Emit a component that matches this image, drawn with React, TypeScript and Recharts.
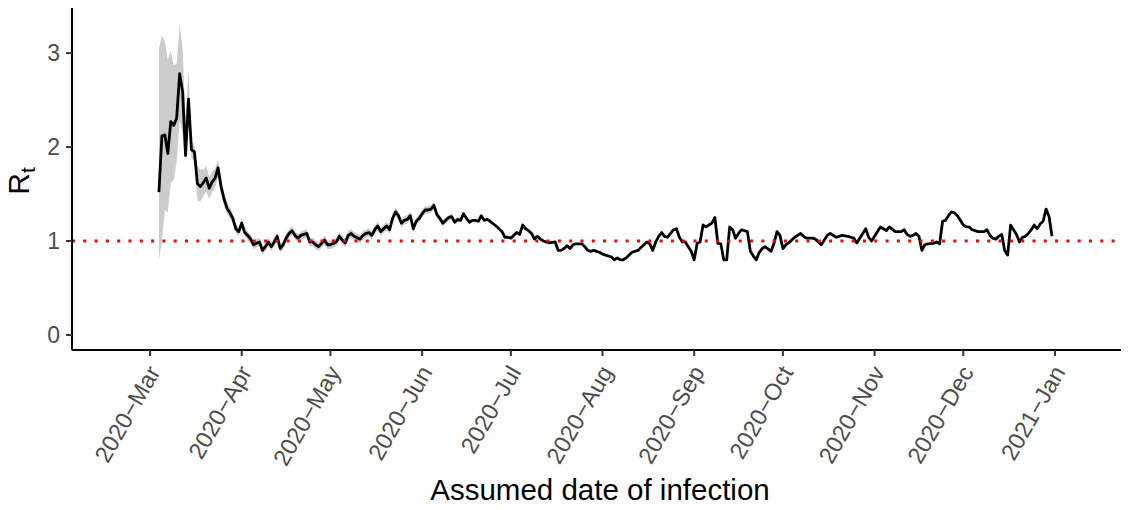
import React from "react";
import { ComposedChart, Line, Area, XAxis, YAxis, ReferenceLine } from "recharts";

// days are counted from 2020-03-01
const START = Date.UTC(2020, 2, 1);

const tickDates = [
  "2020-03-01", "2020-04-01", "2020-05-01", "2020-06-01", "2020-07-01", "2020-08-01",
  "2020-09-01", "2020-10-01", "2020-11-01", "2020-12-01", "2021-01-01",
];
const tickLabels = [
  "2020−Mar", "2020−Apr", "2020−May", "2020−Jun", "2020−Jul", "2020−Aug",
  "2020−Sep", "2020−Oct", "2020−Nov", "2020−Dec", "2021−Jan",
];
const yTicks = [0, 1, 2, 3];
const threshold = 1;

// [day, Rt]
const rtSeries: [number, number][] = [
  [3, 1.52], [4, 2.12], [5, 2.13], [6, 1.93], [7, 2.27], [8, 2.23], [9, 2.31], [10, 2.78], [11, 2.59], [12, 1.91],
  [13, 2.51], [14, 1.97], [15, 1.95], [16, 1.61], [17, 1.58], [18, 1.62], [19, 1.67], [20, 1.56], [21, 1.63], [22, 1.67],
  [23, 1.78], [24, 1.58], [25, 1.45], [26, 1.35], [27, 1.3], [28, 1.24], [29, 1.13], [30, 1.1], [31, 1.19], [32, 1.09],
  [33, 1.06], [34, 1.02], [35, 0.96], [36, 0.975], [37, 0.99], [38, 0.9], [39, 0.94], [40, 0.99], [41, 0.94], [42, 0.99],
  [43, 1.05], [44, 0.92], [45, 0.96], [46, 1.03], [47, 1.08], [48, 1.11], [49, 1.06], [50, 1.03], [51, 1.06], [52, 1.07],
  [53, 1.08], [54, 0.99], [55, 0.99], [56, 0.96], [57, 0.94], [58, 0.975], [59, 1.01], [60, 0.96], [61, 0.96], [63, 0.99],
  [64, 1.05], [65, 1.01], [66, 0.98], [67, 1.06], [68, 1.08], [69, 1.05], [71, 1.02], [72, 1.06], [73, 1.08], [74, 1.09],
  [75, 1.06], [76, 1.12], [77, 1.16], [78, 1.1], [79, 1.13], [80, 1.16], [81, 1.12], [82, 1.24], [83, 1.31], [84, 1.27],
  [85, 1.19], [86, 1.22], [87, 1.23], [88, 1.27], [89, 1.13], [90, 1.21], [91, 1.24], [92, 1.29], [93, 1.33], [94, 1.33],
  [95, 1.34], [96, 1.38], [97, 1.28], [98, 1.24], [99, 1.19], [100, 1.22], [101, 1.25], [102, 1.26], [103, 1.2], [104, 1.23],
  [105, 1.22], [106, 1.29], [107, 1.24], [108, 1.2], [109, 1.22], [110, 1.22], [111, 1.21], [112, 1.27], [113, 1.22], [114, 1.23],
  [115, 1.21], [117, 1.16], [118, 1.13], [119, 1.1], [120, 1.04], [121, 1.04], [122, 1.03], [123, 1.06], [124, 1.09], [125, 1.07],
  [126, 1.17], [127, 1.13], [128, 1.11], [129, 1.08], [130, 1.02], [131, 1.05], [132, 1.02], [133, 1.0], [134, 0.99], [135, 0.98],
  [137, 0.99], [138, 0.9], [139, 0.9], [140, 0.92], [141, 0.95], [142, 0.92], [143, 0.96], [144, 0.97], [146, 0.97], [147, 0.94],
  [148, 0.9], [149, 0.89], [150, 0.9], [151, 0.89], [152, 0.88], [153, 0.86], [154, 0.85], [156, 0.83], [157, 0.8], [158, 0.82],
  [159, 0.8], [160, 0.8], [161, 0.82], [162, 0.85], [163, 0.88], [165, 0.9], [166, 0.93], [167, 0.96], [168, 0.99], [169, 0.97],
  [170, 0.9], [171, 0.99], [172, 1.05], [173, 1.09], [174, 1.05], [175, 1.04], [177, 1.12], [178, 1.13], [179, 1.04], [180, 0.99],
  [181, 0.99], [182, 0.94], [183, 0.89], [184, 0.8], [185, 0.975], [186, 0.99], [187, 1.17], [188, 1.15], [189, 1.17], [190, 1.19],
  [191, 1.25], [192, 0.975], [193, 0.97], [194, 0.8], [195, 0.8], [196, 1.15], [197, 1.12], [198, 1.03], [199, 1.08], [200, 1.12],
  [202, 1.1], [203, 0.89], [204, 0.84], [205, 0.8], [206, 0.88], [207, 0.92], [208, 0.94], [210, 0.89], [211, 0.975], [212, 1.1],
  [213, 1.06], [214, 0.92], [215, 0.96], [216, 0.98], [217, 1.01], [218, 1.04], [220, 1.08], [221, 1.05], [222, 1.03], [224, 1.03],
  [225, 1.02], [226, 0.99], [227, 0.96], [229, 1.06], [230, 1.08], [231, 1.06], [232, 1.04], [233, 1.05], [234, 1.06], [236, 1.05],
  [237, 1.04], [238, 1.03], [239, 0.98], [240, 1.03], [242, 1.13], [243, 1.04], [244, 1.0], [245, 1.05], [246, 1.1], [247, 1.15],
  [248, 1.13], [249, 1.11], [250, 1.15], [252, 1.1], [254, 1.1], [255, 1.12], [256, 1.07], [257, 1.05], [258, 1.06], [259, 1.08],
  [260, 1.05], [261, 0.9], [262, 0.96], [263, 0.97], [265, 0.975], [266, 0.99], [267, 0.97], [268, 1.21], [269, 1.22], [270, 1.27],
  [271, 1.31], [272, 1.3], [273, 1.27], [274, 1.22], [275, 1.17], [276, 1.15], [277, 1.15], [278, 1.12], [280, 1.1], [281, 1.1],
  [282, 1.1], [283, 1.12], [284, 1.06], [285, 1.03], [286, 1.02], [287, 1.05], [288, 1.07], [289, 0.9], [290, 0.85], [291, 1.17],
  [292, 1.12], [293, 1.07], [294, 0.99], [295, 1.04], [296, 1.05], [297, 1.08], [298, 1.12], [299, 1.17], [300, 1.13], [301, 1.18],
  [302, 1.21], [303, 1.34], [304, 1.26], [305, 1.05],
];

// [day, lower, upper] credible interval, only visible in spring
const bandSeries: [number, number, number][] = [
  [3, 0.8, 3.05], [4, 1.0, 3.19], [5, 1.33, 3.12], [6, 1.3, 2.93], [7, 1.62, 3.03], [8, 1.65, 2.87], [9, 1.85, 2.89],
  [10, 2.28, 3.3], [11, 2.15, 3.05], [12, 1.85, 2.3], [13, 2.25, 2.82], [14, 1.88, 2.06], [15, 1.85, 2.02], [16, 1.43, 1.8],
  [17, 1.42, 1.76], [18, 1.48, 1.76], [19, 1.53, 1.8], [20, 1.45, 1.68], [21, 1.52, 1.74], [22, 1.57, 1.77], [23, 1.68, 1.87],
  [24, 1.5, 1.66], [25, 1.38, 1.52], [26, 1.29, 1.42], [27, 1.24, 1.36], [28, 1.19, 1.29], [29, 1.08, 1.18], [30, 1.05, 1.15],
  [31, 1.14, 1.24], [32, 1.045, 1.135], [33, 1.015, 1.105], [34, 0.975, 1.065], [35, 0.915, 1.005], [36, 0.93, 1.02],
  [37, 0.945, 1.035], [38, 0.855, 0.945], [39, 0.895, 0.985], [40, 0.945, 1.035], [41, 0.895, 0.985], [42, 0.945, 1.035],
  [43, 1.005, 1.095], [44, 0.875, 0.965], [45, 0.915, 1.005], [46, 0.985, 1.075], [47, 1.035, 1.125], [48, 1.065, 1.155],
  [49, 1.015, 1.105], [50, 0.985, 1.075], [51, 1.015, 1.105], [52, 1.025, 1.115], [53, 1.035, 1.125], [54, 0.945, 1.035],
  [55, 0.945, 1.035], [56, 0.915, 1.005], [57, 0.895, 0.985], [58, 0.93, 1.02], [59, 0.965, 1.055], [60, 0.915, 1.005],
  [61, 0.915, 1.005], [63, 0.945, 1.035], [64, 1.005, 1.095], [65, 0.965, 1.055], [66, 0.935, 1.025], [67, 1.015, 1.105],
  [68, 1.035, 1.125], [69, 1.005, 1.095], [71, 0.975, 1.065], [72, 1.015, 1.105], [73, 1.035, 1.125], [74, 1.045, 1.135],
  [75, 1.015, 1.105], [76, 1.075, 1.165], [77, 1.115, 1.205], [78, 1.055, 1.145], [79, 1.085, 1.175], [80, 1.115, 1.205],
  [81, 1.075, 1.165], [82, 1.195, 1.285], [83, 1.265, 1.355], [84, 1.225, 1.315], [85, 1.145, 1.235], [86, 1.175, 1.265],
  [87, 1.185, 1.275], [88, 1.225, 1.315], [89, 1.09, 1.17], [90, 1.17, 1.25], [91, 1.2, 1.28], [92, 1.25, 1.33],
  [93, 1.29, 1.37], [94, 1.29, 1.37], [95, 1.3, 1.38], [96, 1.34, 1.42], [97, 1.245, 1.315], [98, 1.205, 1.275],
  [99, 1.155, 1.225], [100, 1.19, 1.25], [101, 1.22, 1.28], [102, 1.23, 1.29], [103, 1.175, 1.225], [104, 1.205, 1.255],
  [105, 1.2, 1.24],
];

const FONT = "'Liberation Sans', Arial, Helvetica, sans-serif";

const dayOf = (iso: string) => Math.round((Date.parse(iso) - START) / 86400000);
const xTicks = tickDates.map(dayOf);
const labelByDay = new Map(xTicks.map((d, i) => [d, tickLabels[i]]));

const bandByDay = new Map(bandSeries.map(([d, lo, hi]) => [d, [lo, hi] as [number, number]]));
const data = rtSeries.map(([day, rt]) => ({ day, rt, band: bandByDay.get(day) ?? null }));

const XTick = (props: any) => {
  const { x, y, payload } = props;
  const ax = x + 11;
  const ay = y + 16;
  return (
    <text
      x={ax}
      y={ay}
      transform={`rotate(-60, ${ax}, ${ay})`}
      textAnchor="end"
      fontSize={23.5}
      fontFamily={FONT}
      fill="#4d4d4d"
    >
      {labelByDay.get(payload.value)}
    </text>
  );
};

export default function App() {
  return (
    <div style={{ position: "relative", width: 1129, height: 510, margin: -8, background: "#fff" }}>
      <ComposedChart width={1129} height={510} data={data} margin={{ top: 8, right: 1, bottom: 0, left: 0 }}>
        <XAxis
          type="number"
          dataKey="day"
          domain={[-26.4, 330.7]}
          allowDataOverflow
          ticks={xTicks}
          interval={0}
          height={160}
          tickSize={6}
          tickMargin={0}
          tick={<XTick />}
          tickLine={{ stroke: "#333333", strokeWidth: 2 }}
          axisLine={{ stroke: "#000", strokeWidth: 2 }}
        />
        <YAxis
          type="number"
          domain={[-0.16, 3.48]}
          allowDataOverflow
          ticks={yTicks}
          interval={0}
          width={72}
          tickSize={6}
          tickMargin={6}
          tick={{ fill: "#4d4d4d", fontSize: 23, fontFamily: FONT }}
          tickLine={{ stroke: "#333333", strokeWidth: 2 }}
          axisLine={{ stroke: "#000", strokeWidth: 2 }}
        />
        <Area
          dataKey="band"
          type="linear"
          stroke="none"
          fill="#cccccc"
          fillOpacity={1}
          isAnimationActive={false}
          activeDot={false}
        />
        <Line
          dataKey="rt"
          type="linear"
          stroke="#000"
          strokeWidth={2.8}
          strokeLinejoin="round"
          dot={false}
          activeDot={false}
          isAnimationActive={false}
        />
        <ReferenceLine y={threshold} stroke="#ff0000" strokeWidth={3} strokeDasharray="3 8.3" />
      </ComposedChart>
      <svg
        width={1129}
        height={510}
        style={{ position: "absolute", left: 0, top: 0, pointerEvents: "none" }}
        fontFamily={FONT}
      >
        <text x={600} y={500} textAnchor="middle" fontSize={29.5} fill="#000">
          Assumed date of infection
        </text>
        <text transform="translate(29, 181) rotate(-90)" textAnchor="middle" fontSize={30} fill="#000">
          R
          <tspan dy={6} fontSize={21}>
            t
          </tspan>
        </text>
      </svg>
    </div>
  );
}
